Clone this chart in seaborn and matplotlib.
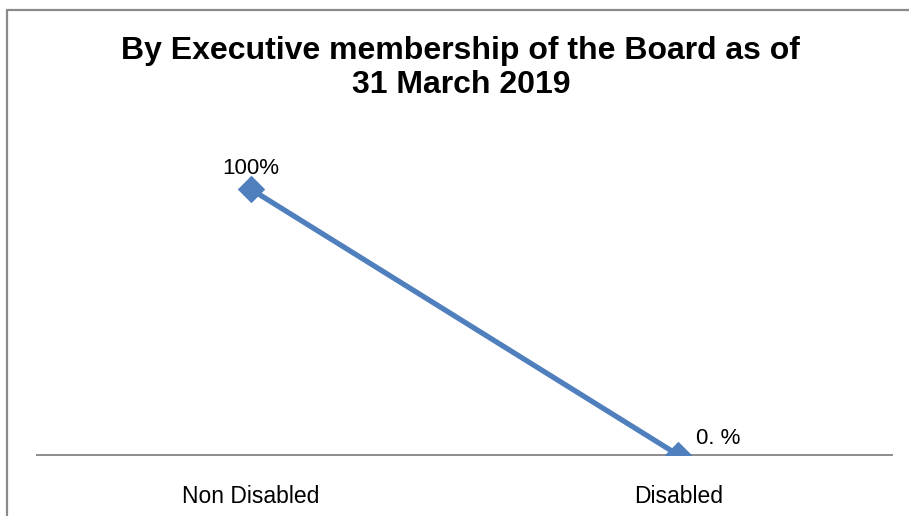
import matplotlib
matplotlib.use("Agg")
import matplotlib.pyplot as plt
import seaborn as sns
import pandas as pd
from matplotlib.patches import Rectangle

# Board composition by disability status
categories = ["Non Disabled", "Disabled"]
shares = [1.0, 0.0]
value_labels = ["100%", "0. %"]
title = "By Executive membership of the Board as of\n31 March 2019"

df = pd.DataFrame({"category": categories, "share": shares})

sns.set_theme(style="white")
plt.rcParams["font.family"] = ["Liberation Sans", "DejaVu Sans"]
plt.rcParams["text.color"] = "black"

fig = plt.figure(figsize=(9.09, 5.16), dpi=100)
ax = fig.add_axes([37 / 909, 1 - 455 / 516, 855 / 909, (455 - 136) / 516])

line_color = "#4F7FBD"
sns.lineplot(data=df, x="category", y="share", ax=ax, color=line_color,
             linewidth=3.8, marker="D", markersize=13, markeredgecolor=line_color,
             sort=False)

ax.set_xlim(-0.5, 1.5)
ax.set_ylim(0, 1.2)
ax.set_xlabel("")
ax.set_ylabel("")
ax.set_yticks([])
ax.tick_params(axis="x", length=0, pad=21.5, labelsize=16.5, labelcolor="black")
for label in ax.get_xticklabels():
    label.set_x(label.get_position()[0])
for side in ["top", "right", "left"]:
    ax.spines[side].set_visible(False)
ax.spines["bottom"].set_color("#8c8c8c")
ax.spines["bottom"].set_linewidth(1.4)
ax.spines["bottom"].set_zorder(0)

# data labels
ax.annotate(value_labels[0], (0, shares[0]), xytext=(0, 7), textcoords="offset points",
            ha="center", va="bottom", fontsize=16, color="black")
ax.annotate(value_labels[1], (1, shares[1]), xytext=(13, 4), textcoords="offset points",
            ha="left", va="bottom", fontsize=16, color="black")

fig.text(0.507, 1 - 68 / 516, title, ha="center", va="center", fontsize=23,
         fontweight="bold", linespacing=1.17, color="black")

# outer chart border
fig.patches.append(Rectangle((6.5 / 909, -0.01), 1.0, 1 - 9.5 / 516 + 0.01,
                             transform=fig.transFigure, fill=False,
                             edgecolor="#8a8a8a", linewidth=1.6))

fig.savefig("out.png", dpi=100)
